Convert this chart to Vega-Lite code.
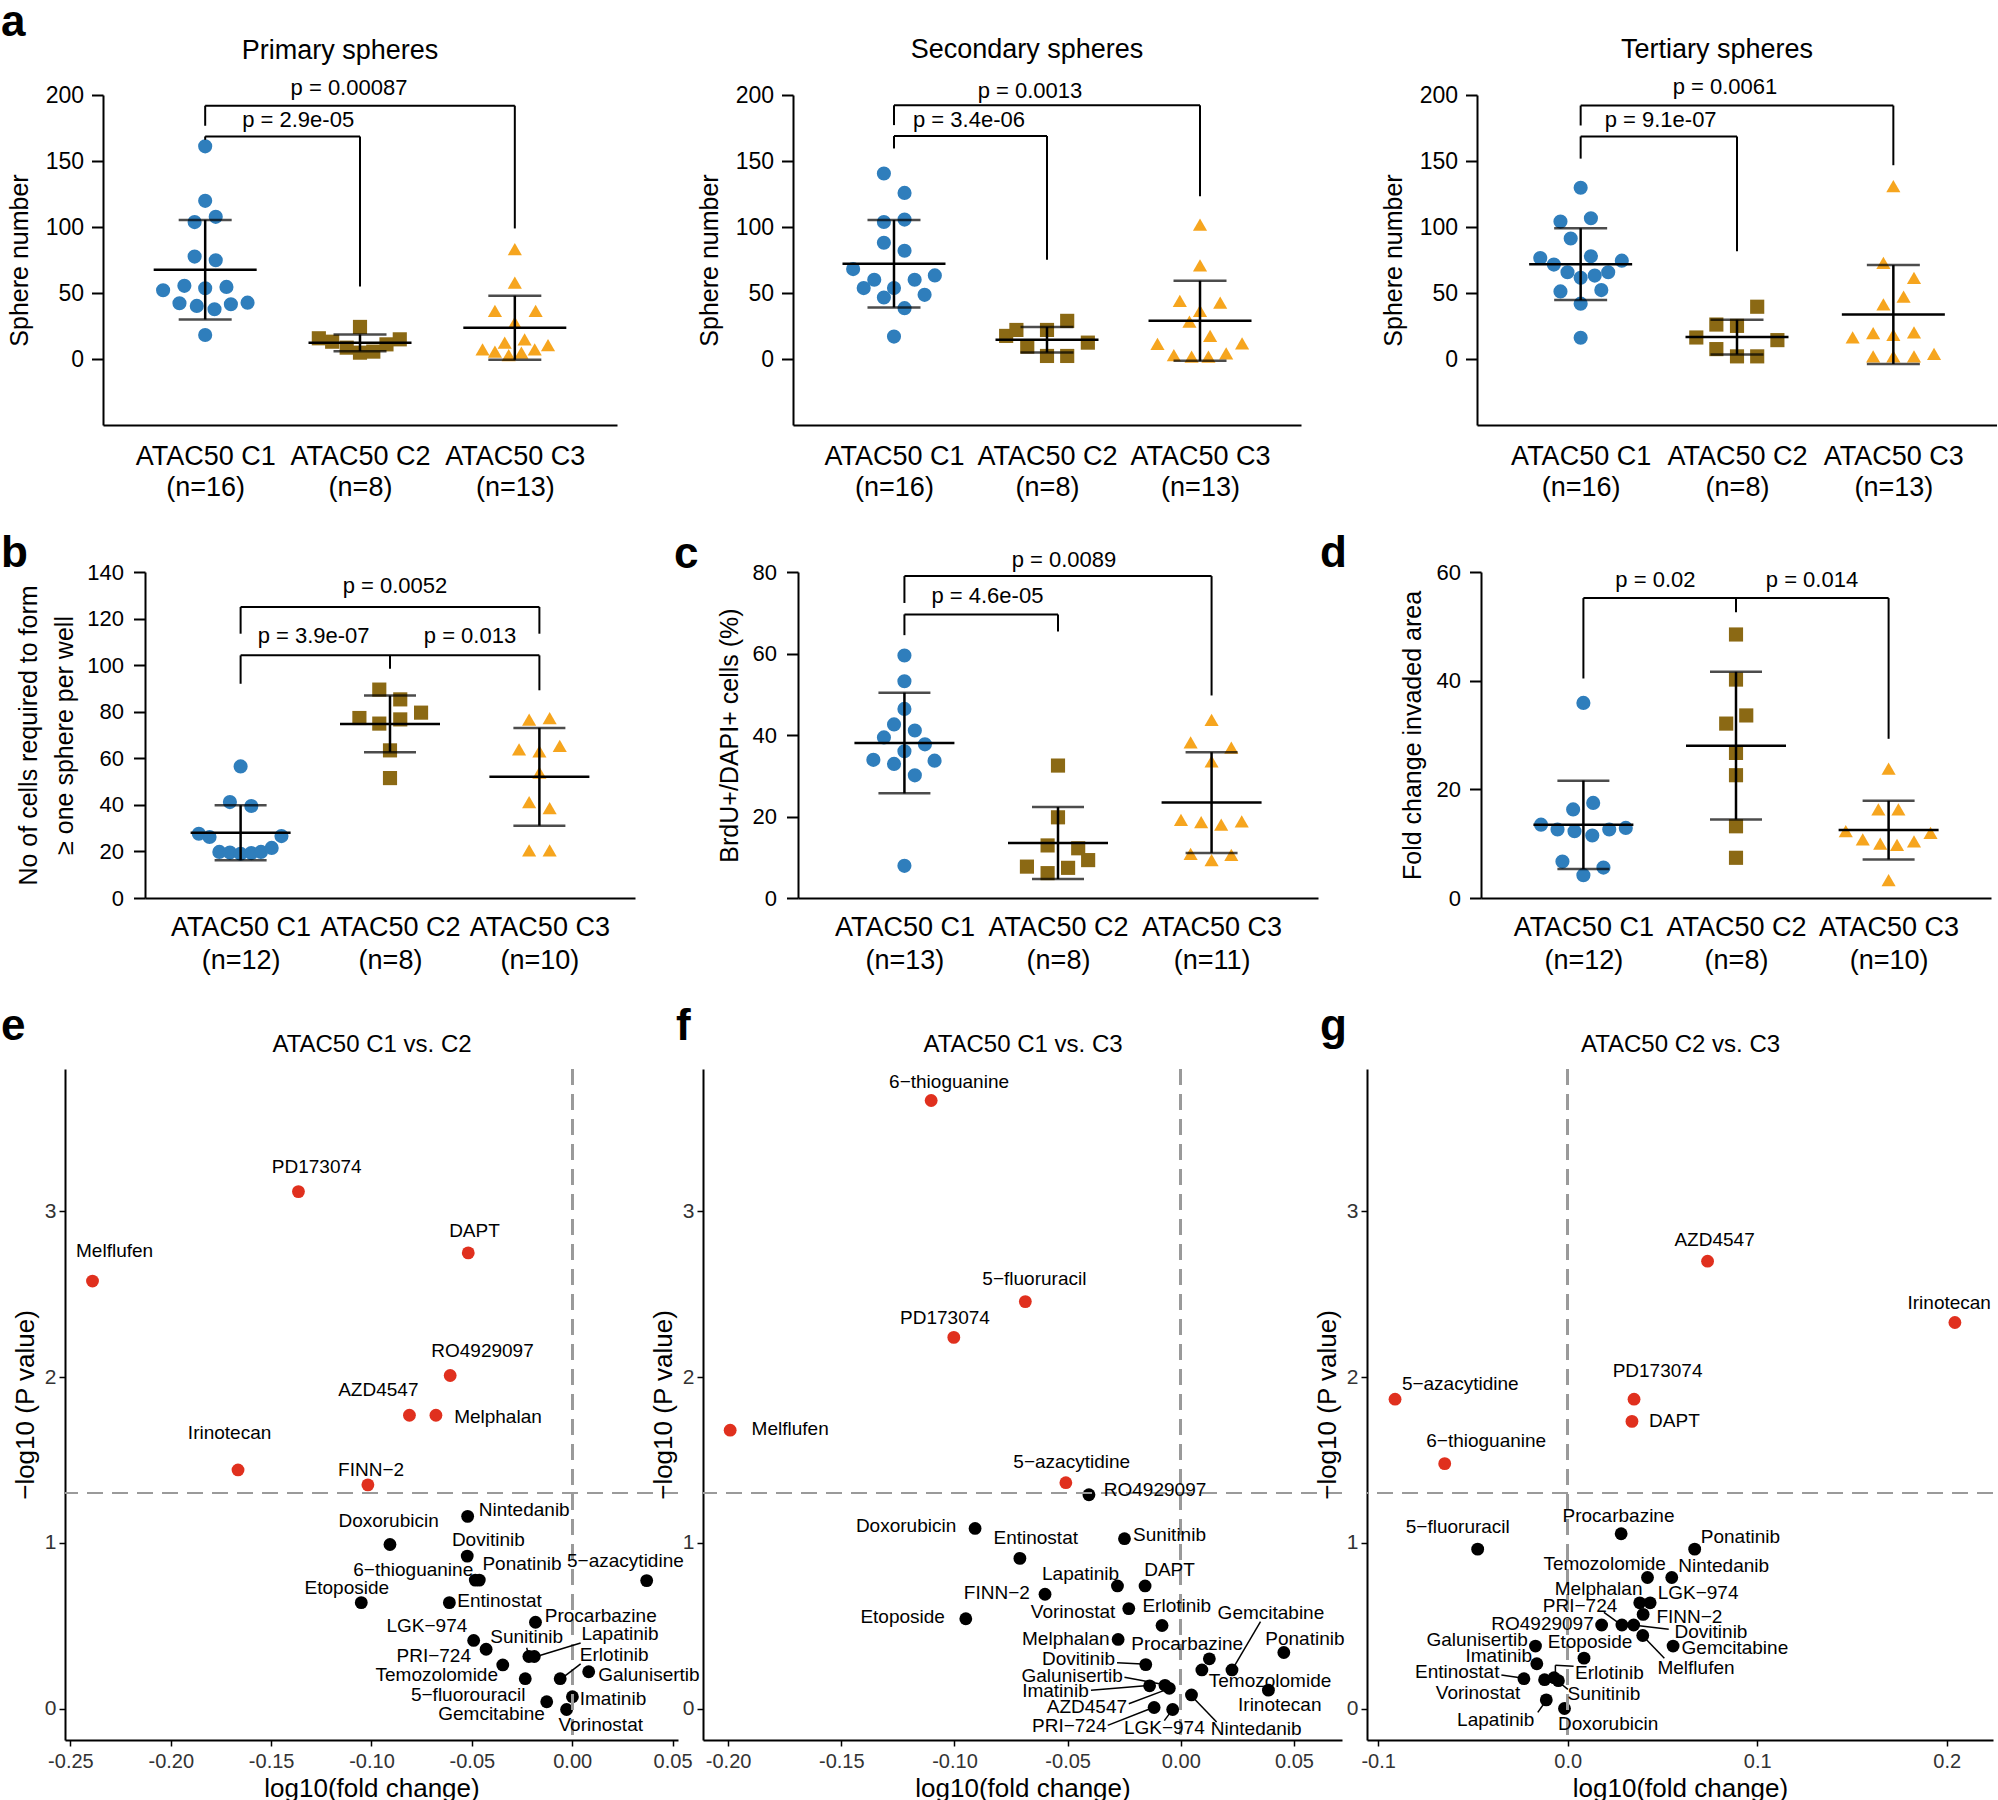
{
"$schema":"https://vega.github.io/schema/vega-lite/v6.json",
"background":"white",
"padding":0,
"autosize":{"type":"pad"},
"config":{"font":"Liberation Sans","view":{"stroke":null},
 "axis":{"grid":false,"domainColor":"black","tickColor":"black","labelColor":"black","titleColor":"black","titleFontWeight":"normal","labelFont":"Liberation Sans","titleFont":"Liberation Sans"},
 "title":{"color":"black","fontWeight":"normal","font":"Liberation Sans"}},
"spacing":32,
"vconcat":[
{"spacing":0,"hconcat":[
 {"width":1,"height":1,"data":{"values":[]},"mark":{"type":"point","opacity":0}},
 {"bounds":"flush","spacing":176,
 "title":{"text":"a","anchor":"start","frame":"group","dx":-102,"offset":-44,"fontSize":44,"fontWeight":"bold","baseline":"alphabetic"},
 "hconcat":[
  {"width":514,"height":330,
   "title":{"text":"Primary spheres","anchor":"middle","frame":"group","dx":-20,"offset":-9,"fontSize":27,"baseline":"alphabetic"},
   "data":{"values":[
    {"g":"C1","v":161.1,"j":0},{"g":"C1","v":119.8,"j":0},{"g":"C1","v":107.7,"j":0.069},{"g":"C1","v":103.7,"j":-0.069},{"g":"C1","v":77.6,"j":-0.069},{"g":"C1","v":74.8,"j":0.069},{"g":"C1","v":52.1,"j":-0.275},{"g":"C1","v":55.4,"j":-0.136},{"g":"C1","v":53.6,"j":0},{"g":"C1","v":54.6,"j":0.139},{"g":"C1","v":42.2,"j":-0.168},{"g":"C1","v":40.2,"j":-0.055},{"g":"C1","v":37.7,"j":0.061},{"g":"C1","v":41.5,"j":0.168},{"g":"C1","v":42.7,"j":0.277},{"g":"C1","v":18.2,"j":0},
    {"g":"C2","v":15.7,"j":-0.269},{"g":"C2","v":13.1,"j":-0.182},{"g":"C2","v":8.6,"j":-0.087},{"g":"C2","v":24.3,"j":0},{"g":"C2","v":4.8,"j":0},{"g":"C2","v":5.6,"j":0.087},{"g":"C2","v":11.1,"j":0.173},{"g":"C2","v":14.9,"j":0.26},
    {"g":"C3","v":83.2,"j":0},{"g":"C3","v":57.9,"j":0},{"g":"C3","v":36.4,"j":-0.13},{"g":"C3","v":36.4,"j":0.136},{"g":"C3","v":27.6,"j":0},{"g":"C3","v":7.3,"j":-0.211},{"g":"C3","v":5.6,"j":-0.13},{"g":"C3","v":12.4,"j":-0.066},{"g":"C3","v":14.9,"j":0.064},{"g":"C3","v":3.0,"j":-0.04},{"g":"C3","v":4.8,"j":0.043},{"g":"C3","v":7.3,"j":0.13},{"g":"C3","v":10.6,"j":0.217}]},
   "layer":[
    {"mark":{"type":"point","filled":true,"opacity":1,"size":200},
     "encoding":{
      "x":{"field":"g","type":"nominal","title":null,"scale":{"type":"point","padding":0.66,"domain":["C1","C2","C3"]},
       "axis":{"ticks":false,"tickSize":0,"domainWidth":2,"labelFontSize":27,"labelPadding":18,"labelLineHeight":31,"labelAngle":0,"labelBaseline":"top",
        "labelExpr":"datum.label == 'C1' ? ['ATAC50 C1','(n=16)'] : datum.label == 'C2' ? ['ATAC50 C2','(n=8)'] : ['ATAC50 C3','(n=13)']"}},
      "xOffset":{"field":"j","type":"quantitative","scale":{"domain":[-0.5,0.5],"range":[-76.5,76.5]}},
      "y":{"field":"v","type":"quantitative","title":"Sphere number","scale":{"domain":[-50,200],"nice":false,"zero":false},
       "axis":{"values":[0,50,100,150,200],"tickSize":11.5,"tickWidth":2,"domainWidth":2,"labelFontSize":23,"labelPadding":8,"titleFontSize":25,"titlePadding":13}},
      "color":{"field":"g","type":"nominal","legend":null,"scale":{"domain":["C1","C2","C3","sig","ns"],"range":["#2F7EBC","#8B6914","#F6A51E","#E0301E","#000000"]}},
      "shape":{"field":"g","type":"nominal","legend":null,"scale":{"domain":["C1","C2","C3"],"range":["circle","square","triangle-up"]}}}},
    {"mark":{"type":"errorbar","extent":"stdev","ticks":true,"size":53,"thickness":2.5,"color":"black"},
     "encoding":{"x":{"field":"g","type":"nominal","title":null},"y":{"field":"v","type":"quantitative","title":"Sphere number"}}},
    {"mark":{"type":"tick","size":103,"thickness":2.5,"color":"black"},
     "encoding":{"x":{"field":"g","type":"nominal","title":null},"y":{"aggregate":"mean","field":"v","type":"quantitative","title":"Sphere number"}}},
    {"data":{"values":[{"g1":"C1","g2":"C2","y1":168.6,"y2":168.6},{"g1":"C1","g2":"C1","y1":168.6,"y2":166},{"g1":"C2","g2":"C2","y1":168.6,"y2":54.9},{"g1":"C1","g2":"C3","y1":191.9,"y2":191.9},{"g1":"C1","g2":"C1","y1":191.9,"y2":176.7},{"g1":"C3","g2":"C3","y1":191.9,"y2":98.9}]},
     "mark":{"type":"rule","strokeWidth":2,"color":"black"},
     "encoding":{"x":{"field":"g1","type":"nominal","title":null},"x2":{"field":"g2"},"y":{"field":"y1","type":"quantitative","title":"Sphere number"},"y2":{"field":"y2"}}},
    {"data":{"values":[{"g":"C1","y":175.5,"t":"p = 2.9e-05"}]},"mark":{"type":"text","dx":93,"fontSize":22,"baseline":"alphabetic","align":"center","color":"black"},
     "encoding":{"x":{"field":"g","type":"nominal","title":null},"y":{"field":"y","type":"quantitative","title":"Sphere number"},"text":{"field":"t"}}},
    {"data":{"values":[{"g":"C2","y":200.3,"t":"p = 0.00087"}]},"mark":{"type":"text","dx":-11,"fontSize":22,"baseline":"alphabetic","align":"center","color":"black"},
     "encoding":{"x":{"field":"g","type":"nominal","title":null},"y":{"field":"y","type":"quantitative","title":"Sphere number"},"text":{"field":"t"}}}
   ]},
  {"width":508,"height":330,
   "title":{"text":"Secondary spheres","anchor":"middle","frame":"group","dx":-20,"offset":-5,"fontSize":27,"baseline":"alphabetic"},
   "data":{"values":[
    {"g":"C1","v":140.5,"j":-0.066},{"g":"C1","v":125.8,"j":0.069},{"g":"C1","v":103.8,"j":-0.066},{"g":"C1","v":105.6,"j":0.069},{"g":"C1","v":88.1,"j":-0.066},{"g":"C1","v":82,"j":0.069},{"g":"C1","v":68.1,"j":-0.267},{"g":"C1","v":60,"j":-0.129},{"g":"C1","v":60,"j":0.135},{"g":"C1","v":63.3,"j":0.267},{"g":"C1","v":53.7,"j":-0.198},{"g":"C1","v":53.7,"j":0},{"g":"C1","v":46.6,"j":-0.066},{"g":"C1","v":48.6,"j":0.2},{"g":"C1","v":38.5,"j":0.069},{"g":"C1","v":17,"j":0},
    {"g":"C2","v":17.5,"j":-0.267},{"g":"C2","v":22,"j":-0.2},{"g":"C2","v":9.4,"j":-0.129},{"g":"C2","v":22,"j":0},{"g":"C2","v":2.3,"j":0},{"g":"C2","v":28.9,"j":0.132},{"g":"C2","v":2.3,"j":0.132},{"g":"C2","v":12.4,"j":0.267},
    {"g":"C3","v":101.8,"j":0},{"g":"C3","v":70.9,"j":0},{"g":"C3","v":44,"j":-0.132},{"g":"C3","v":42.8,"j":0.132},{"g":"C3","v":36.5,"j":0},{"g":"C3","v":28.4,"j":-0.069},{"g":"C3","v":17.5,"j":0.066},{"g":"C3","v":11.4,"j":-0.278},{"g":"C3","v":11.9,"j":0.275},{"g":"C3","v":3,"j":-0.171},{"g":"C3","v":1.8,"j":-0.055},{"g":"C3","v":1.8,"j":0.055},{"g":"C3","v":4.3,"j":0.171}]},
   "layer":[
    {"mark":{"type":"point","filled":true,"opacity":1,"size":200},
     "encoding":{
      "x":{"field":"g","type":"nominal","title":null,"scale":{"type":"point","padding":0.66,"domain":["C1","C2","C3"]},
       "axis":{"ticks":false,"tickSize":0,"domainWidth":2,"labelFontSize":27,"labelPadding":18,"labelLineHeight":31,"labelAngle":0,"labelBaseline":"top",
        "labelExpr":"datum.label == 'C1' ? ['ATAC50 C1','(n=16)'] : datum.label == 'C2' ? ['ATAC50 C2','(n=8)'] : ['ATAC50 C3','(n=13)']"}},
      "xOffset":{"field":"j","type":"quantitative","scale":{"domain":[-0.5,0.5],"range":[-76.5,76.5]}},
      "y":{"field":"v","type":"quantitative","title":"Sphere number","scale":{"domain":[-50,200],"nice":false,"zero":false},
       "axis":{"values":[0,50,100,150,200],"tickSize":11.5,"tickWidth":2,"domainWidth":2,"labelFontSize":23,"labelPadding":8,"titleFontSize":25,"titlePadding":13}},
      "color":{"field":"g","type":"nominal","legend":null,"scale":{"domain":["C1","C2","C3","sig","ns"],"range":["#2F7EBC","#8B6914","#F6A51E","#E0301E","#000000"]}},
      "shape":{"field":"g","type":"nominal","legend":null,"scale":{"domain":["C1","C2","C3"],"range":["circle","square","triangle-up"]}}}},
    {"mark":{"type":"errorbar","extent":"stdev","ticks":true,"size":53,"thickness":2.5,"color":"black"},
     "encoding":{"x":{"field":"g","type":"nominal","title":null},"y":{"field":"v","type":"quantitative","title":"Sphere number"}}},
    {"mark":{"type":"tick","size":103,"thickness":2.5,"color":"black"},
     "encoding":{"x":{"field":"g","type":"nominal","title":null},"y":{"aggregate":"mean","field":"v","type":"quantitative","title":"Sphere number"}}},
    {"data":{"values":[{"g1":"C1","g2":"C2","y1":168.9,"y2":168.9},{"g1":"C1","g2":"C1","y1":168.9,"y2":159.5},{"g1":"C2","g2":"C2","y1":168.9,"y2":75.2},{"g1":"C1","g2":"C3","y1":192.2,"y2":192.2},{"g1":"C1","g2":"C1","y1":192.2,"y2":177.2},{"g1":"C3","g2":"C3","y1":192.2,"y2":123.3}]},
     "mark":{"type":"rule","strokeWidth":2,"color":"black"},
     "encoding":{"x":{"field":"g1","type":"nominal","title":null},"x2":{"field":"g2"},"y":{"field":"y1","type":"quantitative","title":"Sphere number"},"y2":{"field":"y2"}}},
    {"data":{"values":[{"g":"C1","y":175.7,"t":"p = 3.4e-06"}]},"mark":{"type":"text","dx":75,"fontSize":22,"baseline":"alphabetic","align":"center","color":"black"},
     "encoding":{"x":{"field":"g","type":"nominal","title":null},"y":{"field":"y","type":"quantitative","title":"Sphere number"},"text":{"field":"t"}}},
    {"data":{"values":[{"g":"C2","y":198,"t":"p = 0.0013"}]},"mark":{"type":"text","dx":-17,"fontSize":22,"baseline":"alphabetic","align":"center","color":"black"},
     "encoding":{"x":{"field":"g","type":"nominal","title":null},"y":{"field":"y","type":"quantitative","title":"Sphere number"},"text":{"field":"t"}}}
   ]},
  {"width":520,"height":330,
   "title":{"text":"Tertiary spheres","anchor":"middle","frame":"group","dx":-20,"offset":-9,"fontSize":27,"baseline":"alphabetic"},
   "data":{"values":[
    {"g":"C1","v":129.7,"j":0},{"g":"C1","v":104.1,"j":-0.132},{"g":"C1","v":106.6,"j":0.067},{"g":"C1","v":91.3,"j":-0.065},{"g":"C1","v":76.5,"j":-0.264},{"g":"C1","v":77.8,"j":0.067},{"g":"C1","v":71.5,"j":-0.175},{"g":"C1","v":74.5,"j":0.269},{"g":"C1","v":65.7,"j":-0.086},{"g":"C1","v":65.7,"j":0.18},{"g":"C1","v":63.2,"j":0.092},{"g":"C1","v":61.5,"j":0},{"g":"C1","v":51.2,"j":-0.132},{"g":"C1","v":52.2,"j":0.135},{"g":"C1","v":41.9,"j":0},{"g":"C1","v":16.1,"j":0},
    {"g":"C2","v":39.6,"j":0.132},{"g":"C2","v":26.1,"j":-0.135},{"g":"C2","v":25.1,"j":0},{"g":"C2","v":16.3,"j":-0.266},{"g":"C2","v":14.3,"j":0.264},{"g":"C2","v":7.5,"j":-0.135},{"g":"C2","v":2,"j":0},{"g":"C2","v":2,"j":0.132},
    {"g":"C3","v":131,"j":0},{"g":"C3","v":72.8,"j":-0.065},{"g":"C3","v":61.5,"j":0.135},{"g":"C3","v":47.2,"j":0.067},{"g":"C3","v":41.4,"j":-0.065},{"g":"C3","v":16.3,"j":-0.266},{"g":"C3","v":19.6,"j":-0.132},{"g":"C3","v":18.3,"j":0},{"g":"C3","v":20.1,"j":0.135},{"g":"C3","v":2,"j":-0.132},{"g":"C3","v":2,"j":0},{"g":"C3","v":2,"j":0.135},{"g":"C3","v":3.8,"j":0.266}]},
   "layer":[
    {"mark":{"type":"point","filled":true,"opacity":1,"size":200},
     "encoding":{
      "x":{"field":"g","type":"nominal","title":null,"scale":{"type":"point","padding":0.663,"domain":["C1","C2","C3"]},
       "axis":{"ticks":false,"tickSize":0,"domainWidth":2,"labelFontSize":27,"labelPadding":18,"labelLineHeight":31,"labelAngle":0,"labelBaseline":"top",
        "labelExpr":"datum.label == 'C1' ? ['ATAC50 C1','(n=16)'] : datum.label == 'C2' ? ['ATAC50 C2','(n=8)'] : ['ATAC50 C3','(n=13)']"}},
      "xOffset":{"field":"j","type":"quantitative","scale":{"domain":[-0.5,0.5],"range":[-76.5,76.5]}},
      "y":{"field":"v","type":"quantitative","title":"Sphere number","scale":{"domain":[-50,200],"nice":false,"zero":false},
       "axis":{"values":[0,50,100,150,200],"tickSize":11.5,"tickWidth":2,"domainWidth":2,"labelFontSize":23,"labelPadding":8,"titleFontSize":25,"titlePadding":13}},
      "color":{"field":"g","type":"nominal","legend":null,"scale":{"domain":["C1","C2","C3","sig","ns"],"range":["#2F7EBC","#8B6914","#F6A51E","#E0301E","#000000"]}},
      "shape":{"field":"g","type":"nominal","legend":null,"scale":{"domain":["C1","C2","C3"],"range":["circle","square","triangle-up"]}}}},
    {"mark":{"type":"errorbar","extent":"stdev","ticks":true,"size":53,"thickness":2.5,"color":"black"},
     "encoding":{"x":{"field":"g","type":"nominal","title":null},"y":{"field":"v","type":"quantitative","title":"Sphere number"}}},
    {"mark":{"type":"tick","size":103,"thickness":2.5,"color":"black"},
     "encoding":{"x":{"field":"g","type":"nominal","title":null},"y":{"aggregate":"mean","field":"v","type":"quantitative","title":"Sphere number"}}},
    {"data":{"values":[{"g1":"C1","g2":"C2","y1":168.6,"y2":168.6},{"g1":"C1","g2":"C1","y1":168.6,"y2":151.8},{"g1":"C2","g2":"C2","y1":168.6,"y2":81.6},{"g1":"C1","g2":"C3","y1":192,"y2":192},{"g1":"C1","g2":"C1","y1":192,"y2":176.9},{"g1":"C3","g2":"C3","y1":192,"y2":146.8}]},
     "mark":{"type":"rule","strokeWidth":2,"color":"black"},
     "encoding":{"x":{"field":"g1","type":"nominal","title":null},"x2":{"field":"g2"},"y":{"field":"y1","type":"quantitative","title":"Sphere number"},"y2":{"field":"y2"}}},
    {"data":{"values":[{"g":"C1","y":175.7,"t":"p = 9.1e-07"}]},"mark":{"type":"text","dx":80,"fontSize":22,"baseline":"alphabetic","align":"center","color":"black"},
     "encoding":{"x":{"field":"g","type":"nominal","title":null},"y":{"field":"y","type":"quantitative","title":"Sphere number"},"text":{"field":"t"}}},
    {"data":{"values":[{"g":"C2","y":200.8,"t":"p = 0.0061"}]},"mark":{"type":"text","dx":-12,"fontSize":22,"baseline":"alphabetic","align":"center","color":"black"},
     "encoding":{"x":{"field":"g","type":"nominal","title":null},"y":{"field":"y","type":"quantitative","title":"Sphere number"},"text":{"field":"t"}}}
   ]}
 ]}]},
{"spacing":0,"hconcat":[
 {"width":1,"height":1,"data":{"values":[]},"mark":{"type":"point","opacity":0}},
 {"bounds":"flush","spacing":163,
 "hconcat":[
   {"width":490,"height":326,
    "title":{"text":"b","anchor":"start","frame":"group","dx":-144,"offset":-50,"fontSize":44,"fontWeight":"bold","baseline":"alphabetic"},
    "data":{"values":[
     {"g":"C1","v":56.5,"j":0},{"g":"C1","v":41.2,"j":-0.07},{"g":"C1","v":39.5,"j":0.07},{"g":"C1","v":27.6,"j":-0.273},{"g":"C1","v":26.2,"j":-0.203},{"g":"C1","v":26.6,"j":0.267},{"g":"C1","v":19.8,"j":-0.139},{"g":"C1","v":19.5,"j":-0.07},{"g":"C1","v":19,"j":0},{"g":"C1","v":19.3,"j":0.07},{"g":"C1","v":19.8,"j":0.133},{"g":"C1","v":21.5,"j":0.203},
     {"g":"C2","v":89.5,"j":-0.07},{"g":"C2","v":85.3,"j":0.067},{"g":"C2","v":79.6,"j":0.203},{"g":"C2","v":77.3,"j":-0.2},{"g":"C2","v":74.9,"j":-0.07},{"g":"C2","v":76.7,"j":0.067},{"g":"C2","v":63.4,"j":0},{"g":"C2","v":51.5,"j":0},
     {"g":"C3","v":76.6,"j":-0.067},{"g":"C3","v":77.3,"j":0.067},{"g":"C3","v":63.8,"j":-0.133},{"g":"C3","v":63,"j":0},{"g":"C3","v":65.3,"j":0.133},{"g":"C3","v":53.8,"j":0},{"g":"C3","v":41.2,"j":-0.067},{"g":"C3","v":38.6,"j":0.067},{"g":"C3","v":20.5,"j":-0.067},{"g":"C3","v":20.5,"j":0.067}]},
    "layer":[
     {"mark":{"type":"point","filled":true,"opacity":1,"size":200},
      "encoding":{
       "x":{"field":"g","type":"nominal","title":null,"scale":{"type":"point","padding":0.64,"domain":["C1","C2","C3"]},
        "axis":{"ticks":false,"tickSize":0,"domainWidth":2,"labelFontSize":27,"labelPadding":16,"labelLineHeight":33,"labelAngle":0,"labelBaseline":"top",
         "labelExpr":"datum.label == 'C1' ? ['ATAC50 C1','(n=12)'] : datum.label == 'C2' ? ['ATAC50 C2','(n=8)'] : ['ATAC50 C3','(n=10)']"}},
       "xOffset":{"field":"j","type":"quantitative","scale":{"domain":[-0.5,0.5],"range":[-76.5,76.5]}},
       "y":{"field":"v","type":"quantitative","title":["No of cells required to form","≥ one sphere per well"],"scale":{"domain":[0,140],"nice":false,"zero":false},
        "axis":{"values":[0,20,40,60,80,100,120,140],"tickSize":11.5,"tickWidth":2,"domainWidth":2,"labelFontSize":22,"labelPadding":10,"titleFontSize":25,"titleLineHeight":36,"titlePadding":9}},
       "color":{"field":"g","type":"nominal","legend":null,"scale":{"domain":["C1","C2","C3","sig","ns"],"range":["#2F7EBC","#8B6914","#F6A51E","#E0301E","#000000"]}},
       "shape":{"field":"g","type":"nominal","legend":null,"scale":{"domain":["C1","C2","C3"],"range":["circle","square","triangle-up"]}}}},
     {"mark":{"type":"errorbar","extent":"stdev","ticks":true,"size":52,"thickness":2.5,"color":"black"},
      "encoding":{"x":{"field":"g","type":"nominal","title":null},"y":{"field":"v","type":"quantitative","title":["No of cells required to form","≥ one sphere per well"]}}},
     {"mark":{"type":"tick","size":100,"thickness":2.5,"color":"black"},
      "encoding":{"x":{"field":"g","type":"nominal","title":null},"y":{"aggregate":"mean","field":"v","type":"quantitative","title":["No of cells required to form","≥ one sphere per well"]}}},
     {"data":{"values":[{"g1":"C1","g2":"C3","y1":125,"y2":125},{"g1":"C1","g2":"C1","y1":125,"y2":113.5},{"g1":"C3","g2":"C3","y1":125,"y2":113.5},{"g1":"C1","g2":"C3","y1":104.2,"y2":104.2},{"g1":"C1","g2":"C1","y1":104.2,"y2":92},{"g1":"C3","g2":"C3","y1":104.2,"y2":89.2},{"g1":"C2","g2":"C2","y1":104.2,"y2":98.5}]},
      "mark":{"type":"rule","strokeWidth":2,"color":"black"},
      "encoding":{"x":{"field":"g1","type":"nominal","title":null},"x2":{"field":"g2"},"y":{"field":"y1","type":"quantitative","title":["No of cells required to form","≥ one sphere per well"]},"y2":{"field":"y2"}}},
     {"data":{"values":[{"g":"C2","y":131,"t":"p = 0.0052"}]},"mark":{"type":"text","dx":5,"fontSize":22,"baseline":"alphabetic","align":"center","color":"black"},
      "encoding":{"x":{"field":"g","type":"nominal","title":null},"y":{"field":"y","type":"quantitative","title":["No of cells required to form","≥ one sphere per well"]},"text":{"field":"t"}}},
     {"data":{"values":[{"g":"C1","y":109.5,"t":"p = 3.9e-07"}]},"mark":{"type":"text","dx":73,"fontSize":22,"baseline":"alphabetic","align":"center","color":"black"},
      "encoding":{"x":{"field":"g","type":"nominal","title":null},"y":{"field":"y","type":"quantitative","title":["No of cells required to form","≥ one sphere per well"]},"text":{"field":"t"}}},
     {"data":{"values":[{"g":"C2","y":109.5,"t":"p = 0.013"}]},"mark":{"type":"text","dx":80,"fontSize":22,"baseline":"alphabetic","align":"center","color":"black"},
      "encoding":{"x":{"field":"g","type":"nominal","title":null},"y":{"field":"y","type":"quantitative","title":["No of cells required to form","≥ one sphere per well"]},"text":{"field":"t"}}}
    ]},
    {"width":520,"height":326,
     "title":{"text":"c","anchor":"start","frame":"group","dx":-124,"offset":-63,"fontSize":44,"fontWeight":"bold","baseline":"alphabetic"},
     "data":{"values":[
      {"g":"C1","v":59.5,"j":0},{"g":"C1","v":53.2,"j":0},{"g":"C1","v":46.4,"j":0},{"g":"C1","v":42.6,"j":-0.068},{"g":"C1","v":41.1,"j":0.068},{"g":"C1","v":39.4,"j":-0.134},{"g":"C1","v":37.7,"j":0.134},{"g":"C1","v":36,"j":0},{"g":"C1","v":33.9,"j":-0.203},{"g":"C1","v":32.9,"j":-0.068},{"g":"C1","v":33.7,"j":0.197},{"g":"C1","v":30.1,"j":0.068},{"g":"C1","v":7.9,"j":0},
      {"g":"C2","v":32.5,"j":0},{"g":"C2","v":19.8,"j":0},{"g":"C2","v":12.9,"j":-0.068},{"g":"C2","v":12.2,"j":0.132},{"g":"C2","v":9.3,"j":0.197},{"g":"C2","v":7.7,"j":-0.203},{"g":"C2","v":7.4,"j":0.066},{"g":"C2","v":6.1,"j":-0.068},
      {"g":"C3","v":43.7,"j":0},{"g":"C3","v":38.2,"j":-0.137},{"g":"C3","v":36.9,"j":0.129},{"g":"C3","v":33.5,"j":0},{"g":"C3","v":19.2,"j":-0.2},{"g":"C3","v":18.6,"j":-0.068},{"g":"C3","v":18,"j":0.063},{"g":"C3","v":18.8,"j":0.197},{"g":"C3","v":10.8,"j":-0.137},{"g":"C3","v":10.6,"j":0.129},{"g":"C3","v":9.3,"j":0}]},
     "layer":[
      {"mark":{"type":"point","filled":true,"opacity":1,"size":200},
       "encoding":{
        "x":{"field":"g","type":"nominal","title":null,"scale":{"type":"point","padding":0.693,"domain":["C1","C2","C3"]},
         "axis":{"ticks":false,"tickSize":0,"domainWidth":2,"labelFontSize":27,"labelPadding":16,"labelLineHeight":33,"labelAngle":0,"labelBaseline":"top",
          "labelExpr":"datum.label == 'C1' ? ['ATAC50 C1','(n=13)'] : datum.label == 'C2' ? ['ATAC50 C2','(n=8)'] : ['ATAC50 C3','(n=11)']"}},
        "xOffset":{"field":"j","type":"quantitative","scale":{"domain":[-0.5,0.5],"range":[-76.5,76.5]}},
        "y":{"field":"v","type":"quantitative","title":"BrdU+/DAPI+ cells (%)","scale":{"domain":[0,80],"nice":false,"zero":false},
         "axis":{"values":[0,20,40,60,80],"tickSize":11.5,"tickWidth":2,"domainWidth":2,"labelFontSize":22,"labelPadding":10,"titleFontSize":25,"titlePadding":10}},
        "color":{"field":"g","type":"nominal","legend":null,"scale":{"domain":["C1","C2","C3","sig","ns"],"range":["#2F7EBC","#8B6914","#F6A51E","#E0301E","#000000"]}},
        "shape":{"field":"g","type":"nominal","legend":null,"scale":{"domain":["C1","C2","C3"],"range":["circle","square","triangle-up"]}}}},
      {"mark":{"type":"errorbar","extent":"stdev","ticks":true,"size":52,"thickness":2.5,"color":"black"},
       "encoding":{"x":{"field":"g","type":"nominal","title":null},"y":{"field":"v","type":"quantitative","title":"BrdU+/DAPI+ cells (%)"}}},
      {"mark":{"type":"tick","size":100,"thickness":2.5,"color":"black"},
       "encoding":{"x":{"field":"g","type":"nominal","title":null},"y":{"aggregate":"mean","field":"v","type":"quantitative","title":"BrdU+/DAPI+ cells (%)"}}},
      {"data":{"values":[{"g1":"C1","g2":"C3","y1":79,"y2":79},{"g1":"C1","g2":"C1","y1":79,"y2":72.4},{"g1":"C3","g2":"C3","y1":79,"y2":49.7},{"g1":"C1","g2":"C2","y1":69.6,"y2":69.6},{"g1":"C1","g2":"C1","y1":69.6,"y2":64.5},{"g1":"C2","g2":"C2","y1":69.6,"y2":65.4}]},
       "mark":{"type":"rule","strokeWidth":2,"color":"black"},
       "encoding":{"x":{"field":"g1","type":"nominal","title":null},"x2":{"field":"g2"},"y":{"field":"y1","type":"quantitative","title":"BrdU+/DAPI+ cells (%)"},"y2":{"field":"y2"}}},
      {"data":{"values":[{"g":"C2","y":81.2,"t":"p = 0.0089"}]},"mark":{"type":"text","dx":6,"fontSize":22,"baseline":"alphabetic","align":"center","color":"black"},
       "encoding":{"x":{"field":"g","type":"nominal","title":null},"y":{"field":"y","type":"quantitative","title":"BrdU+/DAPI+ cells (%)"},"text":{"field":"t"}}},
      {"data":{"values":[{"g":"C1","y":72.4,"t":"p = 4.6e-05"}]},"mark":{"type":"text","dx":83,"fontSize":22,"baseline":"alphabetic","align":"center","color":"black"},
       "encoding":{"x":{"field":"g","type":"nominal","title":null},"y":{"field":"y","type":"quantitative","title":"BrdU+/DAPI+ cells (%)"},"text":{"field":"t"}}}
     ]},
    {"width":510,"height":326,
     "title":{"text":"d","anchor":"start","frame":"group","dx":-161,"offset":-50,"fontSize":44,"fontWeight":"bold","baseline":"alphabetic"},
     "data":{"values":[
      {"g":"C1","v":35.9,"j":0},{"g":"C1","v":17.5,"j":0.064},{"g":"C1","v":16.3,"j":-0.067},{"g":"C1","v":13.5,"j":-0.277},{"g":"C1","v":12.6,"j":-0.169},{"g":"C1","v":12.3,"j":-0.058},{"g":"C1","v":11.5,"j":0.058},{"g":"C1","v":12.6,"j":0.169},{"g":"C1","v":12.9,"j":0.277},{"g":"C1","v":6.7,"j":-0.137},{"g":"C1","v":5.6,"j":0.131},{"g":"C1","v":4.2,"j":0},
      {"g":"C2","v":48.5,"j":0},{"g":"C2","v":40.2,"j":0},{"g":"C2","v":33.6,"j":0.067},{"g":"C2","v":32.1,"j":-0.064},{"g":"C2","v":26.7,"j":0},{"g":"C2","v":22.6,"j":0},{"g":"C2","v":13.2,"j":0},{"g":"C2","v":7.4,"j":0},
      {"g":"C3","v":23.8,"j":0},{"g":"C3","v":16.3,"j":-0.067},{"g":"C3","v":16.3,"j":0.064},{"g":"C3","v":12.3,"j":-0.28},{"g":"C3","v":12,"j":0.274},{"g":"C3","v":10.8,"j":-0.169},{"g":"C3","v":10.4,"j":0.166},{"g":"C3","v":10,"j":-0.055},{"g":"C3","v":9.8,"j":0.055},{"g":"C3","v":3.3,"j":0}]},
     "layer":[
      {"mark":{"type":"point","filled":true,"opacity":1,"size":200},
       "encoding":{
        "x":{"field":"g","type":"nominal","title":null,"scale":{"type":"point","padding":0.671,"domain":["C1","C2","C3"]},
         "axis":{"ticks":false,"tickSize":0,"domainWidth":2,"labelFontSize":27,"labelPadding":16,"labelLineHeight":33,"labelAngle":0,"labelBaseline":"top",
          "labelExpr":"datum.label == 'C1' ? ['ATAC50 C1','(n=12)'] : datum.label == 'C2' ? ['ATAC50 C2','(n=8)'] : ['ATAC50 C3','(n=10)']"}},
        "xOffset":{"field":"j","type":"quantitative","scale":{"domain":[-0.5,0.5],"range":[-76.5,76.5]}},
        "y":{"field":"v","type":"quantitative","title":"Fold change invaded area","scale":{"domain":[0,60],"nice":false,"zero":false},
         "axis":{"values":[0,20,40,60],"tickSize":11.5,"tickWidth":2,"domainWidth":2,"labelFontSize":22,"labelPadding":9,"titleFontSize":25,"titlePadding":11}},
        "color":{"field":"g","type":"nominal","legend":null,"scale":{"domain":["C1","C2","C3","sig","ns"],"range":["#2F7EBC","#8B6914","#F6A51E","#E0301E","#000000"]}},
        "shape":{"field":"g","type":"nominal","legend":null,"scale":{"domain":["C1","C2","C3"],"range":["circle","square","triangle-up"]}}}},
      {"mark":{"type":"errorbar","extent":"stdev","ticks":true,"size":52,"thickness":2.5,"color":"black"},
       "encoding":{"x":{"field":"g","type":"nominal","title":null},"y":{"field":"v","type":"quantitative","title":"Fold change invaded area"}}},
      {"mark":{"type":"tick","size":100,"thickness":2.5,"color":"black"},
       "encoding":{"x":{"field":"g","type":"nominal","title":null},"y":{"aggregate":"mean","field":"v","type":"quantitative","title":"Fold change invaded area"}}},
      {"data":{"values":[{"g1":"C1","g2":"C3","y1":55.2,"y2":55.2},{"g1":"C1","g2":"C1","y1":55.2,"y2":40.4},{"g1":"C3","g2":"C3","y1":55.2,"y2":29.3},{"g1":"C2","g2":"C2","y1":55.2,"y2":52.6}]},
       "mark":{"type":"rule","strokeWidth":2,"color":"black"},
       "encoding":{"x":{"field":"g1","type":"nominal","title":null},"x2":{"field":"g2"},"y":{"field":"y1","type":"quantitative","title":"Fold change invaded area"},"y2":{"field":"y2"}}},
      {"data":{"values":[{"g":"C1","y":57.2,"t":"p = 0.02"}]},"mark":{"type":"text","dx":72,"fontSize":22,"baseline":"alphabetic","align":"center","color":"black"},
       "encoding":{"x":{"field":"g","type":"nominal","title":null},"y":{"field":"y","type":"quantitative","title":"Fold change invaded area"},"text":{"field":"t"}}},
      {"data":{"values":[{"g":"C2","y":57.2,"t":"p = 0.014"}]},"mark":{"type":"text","dx":76,"fontSize":22,"baseline":"alphabetic","align":"center","color":"black"},
       "encoding":{"x":{"field":"g","type":"nominal","title":null},"y":{"field":"y","type":"quantitative","title":"Fold change invaded area"},"text":{"field":"t"}}}
     ]}
 ]}]},
{"spacing":0,"hconcat":[
 {"width":1,"height":1,"data":{"values":[]},"mark":{"type":"point","opacity":0}},
 {"bounds":"flush","spacing":25,
 "hconcat":[
   {"width":613,"height":671,
    "title":{"text":"e","anchor":"start","frame":"group","dx":-64,"offset":-52,"fontSize":44,"fontWeight":"bold","baseline":"alphabetic"},
    "data":{"values":[
     {"d":"Melflufen","x":-0.239,"y":2.58,"s":"sig","lx":-0.228,"ly":2.76},
     {"d":"PD173074","x":-0.1364,"y":3.12,"s":"sig","lx":-0.1273,"ly":3.27},
     {"d":"DAPT","x":-0.0518,"y":2.75,"s":"sig","lx":-0.0487,"ly":2.88},
     {"d":"RO4929097","x":-0.0608,"y":2.01,"s":"sig","lx":-0.0447,"ly":2.16},
     {"d":"AZD4547","x":-0.0811,"y":1.77,"s":"sig","lx":-0.0966,"ly":1.92},
     {"d":"Melphalan","x":-0.0679,"y":1.77,"s":"sig","lx":-0.037,"ly":1.76},
     {"d":"Irinotecan","x":-0.1665,"y":1.44,"s":"sig","lx":-0.1707,"ly":1.66},
     {"d":"FINN−2","x":-0.1018,"y":1.35,"s":"sig","lx":-0.1002,"ly":1.44},
     {"d":"Nintedanib","x":-0.0521,"y":1.16,"s":"ns","lx":-0.0239,"ly":1.2},
     {"d":"Doxorubicin","x":-0.0908,"y":0.99,"s":"ns","lx":-0.0915,"ly":1.13},
     {"d":"Dovitinib","x":-0.0523,"y":0.92,"s":"ns","lx":-0.0418,"ly":1.02},
     {"d":"6−thioguanine","x":-0.0483,"y":0.775,"s":"ns","lx":-0.0792,"ly":0.834},
     {"d":"Ponatinib","x":-0.0463,"y":0.775,"s":"ns","lx":-0.025,"ly":0.873},
     {"d":"5−azacytidine","x":0.0371,"y":0.772,"s":"ns","lx":0.0265,"ly":0.888},
     {"d":"Etoposide","x":-0.1051,"y":0.639,"s":"ns","lx":-0.1123,"ly":0.725},
     {"d":"Entinostat","x":-0.0612,"y":0.639,"s":"ns","lx":-0.0362,"ly":0.651},
     {"d":"Procarbazine","x":-0.0183,"y":0.521,"s":"ns","lx":0.0142,"ly":0.559},
     {"d":"LGK−974","x":-0.0491,"y":0.411,"s":"ns","lx":-0.0724,"ly":0.497},
     {"d":"PRI−724","x":-0.0429,"y":0.358,"s":"ns","lx":-0.069,"ly":0.32},
     {"d":"Sunitinib","x":-0.0216,"y":0.314,"s":"ns","lx":-0.0227,"ly":0.432},
     {"d":"Lapatinib","x":-0.0189,"y":0.314,"s":"ns","lx":0.0238,"ly":0.45},
     {"d":"Temozolomide","x":-0.0346,"y":0.263,"s":"ns","lx":-0.0675,"ly":0.204},
     {"d":"5−fluorouracil","x":-0.0234,"y":0.18,"s":"ns","lx":-0.0518,"ly":0.083},
     {"d":"Erlotinib","x":-0.006,"y":0.18,"s":"ns","lx":0.0209,"ly":0.322},
     {"d":"Galunisertib","x":0.0082,"y":0.222,"s":"ns","lx":0.0382,"ly":0.204},
     {"d":"Imatinib","x":0.0001,"y":0.071,"s":"ns","lx":0.0203,"ly":0.056},
     {"d":"Gemcitabine","x":-0.0127,"y":0.041,"s":"ns","lx":-0.0402,"ly":-0.036},
     {"d":"Vorinostat","x":-0.0028,"y":-0.006,"s":"ns","lx":0.0142,"ly":-0.101}]},
    "layer":[
     {"mark":{"type":"circle","size":165,"opacity":1},
      "encoding":{
       "x":{"field":"x","type":"quantitative","title":"log10(fold change)","scale":{"domain":[-0.2527,0.0527],"nice":false,"zero":false},
        "axis":{"orient":"bottom","values":[-0.25,-0.2,-0.15,-0.1,-0.05,0,0.05],"labelExpr":"replace(format(datum.value,'.2f'),'−','-')","tickSize":6,"tickWidth":1.5,"domainWidth":2,"labelFontSize":20,"labelPadding":5,"labelColor":"#333333","titleFontSize":26,"titlePadding":4}},
       "y":{"field":"y","type":"quantitative","title":"−log10 (P value)","scale":{"domain":[-0.19,3.86],"nice":false,"zero":false},
        "axis":{"values":[0,1,2,3],"format":"d","tickSize":6,"tickWidth":1.5,"domainWidth":2,"labelFontSize":21,"labelPadding":3,"labelColor":"#333333","titleFontSize":26,"titlePadding":6}},
       "color":{"field":"s","type":"nominal","legend":null,"scale":{"domain":["C1","C2","C3","sig","ns"],"range":["#2F7EBC","#8B6914","#F6A51E","#E0301E","#000000"]}}}},
     {"mark":{"type":"rule","color":"#9A9A9A","strokeWidth":2,"strokeDash":[16,9]},"encoding":{"y":{"datum":1.301,"title":"−log10 (P value)"}}},
     {"mark":{"type":"rule","color":"#9A9A9A","strokeWidth":2,"strokeDash":[16,9]},"encoding":{"x":{"datum":0,"axis":null}}},
     {"data":{"values":[{"x1":-0.0227,"y1":0.367,"x2":-0.0216,"y2":0.322},{"x1":0.0042,"y1":0.396,"x2":-0.0178,"y2":0.314},{"x1":0.0042,"y1":0.269,"x2":-0.0047,"y2":0.186}]},
      "mark":{"type":"rule","color":"black","strokeWidth":1.5},
      "encoding":{"x":{"field":"x1","type":"quantitative","axis":null},"x2":{"field":"x2"},"y":{"field":"y1","type":"quantitative","title":"−log10 (P value)"},"y2":{"field":"y2"}}},
     {"mark":{"type":"text","fontSize":19,"color":"black","align":"center","baseline":"middle"},
      "encoding":{"x":{"field":"lx","type":"quantitative","axis":{"orient":"top","title":"ATAC50 C1 vs. C2","domain":false,"ticks":false,"labels":false,"grid":false,"titleFontSize":24,"titlePadding":13}},
       "y":{"field":"ly","type":"quantitative","title":"−log10 (P value)"},"text":{"field":"d"}}}
    ]},
    {"width":639,"height":671,
     "title":{"text":"f","anchor":"start","frame":"group","dx":-27,"offset":-52,"fontSize":44,"fontWeight":"bold","baseline":"alphabetic"},
     "data":{"values":[
      {"d":"6−thioguanine","x":-0.1103,"y":3.67,"s":"sig","lx":-0.1024,"ly":3.78},
      {"d":"5−fluoruracil","x":-0.0687,"y":2.456,"s":"sig","lx":-0.0647,"ly":2.59},
      {"d":"PD173074","x":-0.1003,"y":2.24,"s":"sig","lx":-0.1042,"ly":2.357},
      {"d":"Melflufen","x":-0.1991,"y":1.68,"s":"sig","lx":-0.1726,"ly":1.69},
      {"d":"5−azacytidine","x":-0.0508,"y":1.363,"s":"sig","lx":-0.0482,"ly":1.49},
      {"d":"RO4929097","x":-0.0406,"y":1.29,"s":"ns","lx":-0.0114,"ly":1.32},
      {"d":"Doxorubicin","x":-0.0909,"y":1.087,"s":"ns","lx":-0.1214,"ly":1.1},
      {"d":"Entinostat","x":-0.0711,"y":0.906,"s":"ns","lx":-0.0641,"ly":1.03},
      {"d":"Sunitinib","x":-0.0249,"y":1.025,"s":"ns","lx":-0.005,"ly":1.046},
      {"d":"Lapatinib","x":-0.028,"y":0.74,"s":"ns","lx":-0.0443,"ly":0.81},
      {"d":"DAPT","x":-0.0158,"y":0.74,"s":"ns","lx":-0.005,"ly":0.839},
      {"d":"FINN−2","x":-0.06,"y":0.69,"s":"ns","lx":-0.0813,"ly":0.7},
      {"d":"Vorinostat","x":-0.023,"y":0.603,"s":"ns","lx":-0.0476,"ly":0.585},
      {"d":"Erlotinib","x":-0.0083,"y":0.501,"s":"ns","lx":-0.0018,"ly":0.617},
      {"d":"Etoposide","x":-0.095,"y":0.542,"s":"ns","lx":-0.1229,"ly":0.55},
      {"d":"Melphalan","x":-0.0277,"y":0.417,"s":"ns","lx":-0.0508,"ly":0.417},
      {"d":"Procarbazine","x":0.0126,"y":0.3,"s":"ns","lx":0.0028,"ly":0.387},
      {"d":"Temozolomide","x":0.0093,"y":0.233,"s":"ns","lx":0.0394,"ly":0.169},
      {"d":"Gemcitabine","x":0.0226,"y":0.233,"s":"ns","lx":0.0398,"ly":0.574},
      {"d":"Ponatinib","x":0.0455,"y":0.338,"s":"ns","lx":0.0548,"ly":0.422},
      {"d":"Irinotecan","x":0.0387,"y":0.111,"s":"ns","lx":0.0437,"ly":0.02},
      {"d":"Dovitinib","x":-0.0155,"y":0.265,"s":"ns","lx":-0.0452,"ly":0.297},
      {"d":"Galunisertib","x":-0.007,"y":0.14,"s":"ns","lx":-0.048,"ly":0.198},
      {"d":"AZD4547","x":-0.0051,"y":0.122,"s":"ns","lx":-0.0415,"ly":0.012},
      {"d":"Imatinib","x":-0.0138,"y":0.137,"s":"ns","lx":-0.0554,"ly":0.108},
      {"d":"PRI−724","x":-0.0118,"y":0.006,"s":"ns","lx":-0.0493,"ly":-0.105},
      {"d":"LGK−974","x":-0.0036,"y":-0.006,"s":"ns","lx":-0.0073,"ly":-0.119},
      {"d":"Nintedanib","x":0.0047,"y":0.082,"s":"ns","lx":0.0333,"ly":-0.125}]},
     "layer":[
      {"mark":{"type":"circle","size":165,"opacity":1},
       "encoding":{
        "x":{"field":"x","type":"quantitative","title":"log10(fold change)","scale":{"domain":[-0.2111,0.0712],"nice":false,"zero":false},
         "axis":{"orient":"bottom","values":[-0.2,-0.15,-0.1,-0.05,0,0.05],"labelExpr":"replace(format(datum.value,'.2f'),'−','-')","tickSize":6,"tickWidth":1.5,"domainWidth":2,"labelFontSize":20,"labelPadding":5,"labelColor":"#333333","titleFontSize":26,"titlePadding":4}},
        "y":{"field":"y","type":"quantitative","title":"−log10 (P value)","scale":{"domain":[-0.19,3.86],"nice":false,"zero":false},
         "axis":{"values":[0,1,2,3],"format":"d","tickSize":6,"tickWidth":1.5,"domainWidth":2,"labelFontSize":21,"labelPadding":3,"labelColor":"#333333","titleFontSize":26,"titlePadding":6}},
        "color":{"field":"s","type":"nominal","legend":null,"scale":{"domain":["C1","C2","C3","sig","ns"],"range":["#2F7EBC","#8B6914","#F6A51E","#E0301E","#000000"]}}}},
      {"mark":{"type":"rule","color":"#9A9A9A","strokeWidth":2,"strokeDash":[16,9]},"encoding":{"y":{"datum":1.301,"title":"−log10 (P value)"}}},
      {"mark":{"type":"rule","color":"#9A9A9A","strokeWidth":2,"strokeDash":[16,9]},"encoding":{"x":{"datum":0,"axis":null}}},
      {"data":{"values":[{"x1":0.0352,"y1":0.524,"x2":0.0235,"y2":0.253},{"x1":-0.0282,"y1":0.277,"x2":-0.017,"y2":0.268},{"x1":-0.0249,"y1":0.189,"x2":-0.0083,"y2":0.146},{"x1":-0.023,"y1":0.029,"x2":-0.007,"y2":0.111},{"x1":-0.0397,"y1":0.111,"x2":-0.0157,"y2":0.137},{"x1":-0.0323,"y1":-0.102,"x2":-0.0133,"y2":0.0},{"x1":-0.0073,"y1":-0.073,"x2":-0.0046,"y2":-0.023},{"x1":0.0158,"y1":-0.082,"x2":0.0056,"y2":0.064}]},
       "mark":{"type":"rule","color":"black","strokeWidth":1.5},
       "encoding":{"x":{"field":"x1","type":"quantitative","axis":null},"x2":{"field":"x2"},"y":{"field":"y1","type":"quantitative","title":"−log10 (P value)"},"y2":{"field":"y2"}}},
      {"mark":{"type":"text","fontSize":19,"color":"black","align":"center","baseline":"middle"},
       "encoding":{"x":{"field":"lx","type":"quantitative","axis":{"orient":"top","title":"ATAC50 C1 vs. C3","domain":false,"ticks":false,"labels":false,"grid":false,"titleFontSize":24,"titlePadding":13}},
        "y":{"field":"ly","type":"quantitative","title":"−log10 (P value)"},"text":{"field":"d"}}}
     ]},
    {"width":626,"height":671,
     "title":{"text":"g","anchor":"start","frame":"group","dx":-47,"offset":-52,"fontSize":44,"fontWeight":"bold","baseline":"alphabetic"},
     "data":{"values":[
      {"d":"AZD4547","x":0.0738,"y":2.7,"s":"sig","lx":0.0775,"ly":2.83},
      {"d":"Irinotecan","x":0.2043,"y":2.33,"s":"sig","lx":0.2013,"ly":2.45},
      {"d":"5−azacytidine","x":-0.0911,"y":1.867,"s":"sig","lx":-0.0567,"ly":1.96},
      {"d":"PD173074","x":0.035,"y":1.867,"s":"sig","lx":0.0474,"ly":2.035},
      {"d":"DAPT","x":0.0339,"y":1.733,"s":"sig","lx":0.0563,"ly":1.736},
      {"d":"6−thioguanine","x":-0.0649,"y":1.478,"s":"sig","lx":-0.043,"ly":1.617},
      {"d":"5−fluoruracil","x":-0.0475,"y":0.962,"s":"ns","lx":-0.058,"ly":1.093},
      {"d":"Procarbazine","x":0.0282,"y":1.055,"s":"ns","lx":0.0268,"ly":1.16},
      {"d":"Ponatinib","x":0.067,"y":0.962,"s":"ns","lx":0.0911,"ly":1.038},
      {"d":"Temozolomide","x":0.0421,"y":0.791,"s":"ns","lx":0.0195,"ly":0.875},
      {"d":"Nintedanib","x":0.0549,"y":0.791,"s":"ns","lx":0.0823,"ly":0.861},
      {"d":"Melphalan","x":0.038,"y":0.638,"s":"ns","lx":0.0163,"ly":0.719},
      {"d":"LGK−974","x":0.0435,"y":0.638,"s":"ns","lx":0.0688,"ly":0.696},
      {"d":"FINN−2","x":0.0398,"y":0.568,"s":"ns","lx":0.0642,"ly":0.551},
      {"d":"PRI−724","x":0.0286,"y":0.504,"s":"ns","lx":0.0065,"ly":0.617},
      {"d":"Dovitinib","x":0.0348,"y":0.504,"s":"ns","lx":0.0756,"ly":0.461},
      {"d":"RO4929097","x":0.0179,"y":0.504,"s":"ns","lx":-0.0133,"ly":0.51},
      {"d":"Gemcitabine","x":0.0556,"y":0.377,"s":"ns","lx":0.0882,"ly":0.365},
      {"d":"Melflufen","x":0.0396,"y":0.441,"s":"ns","lx":0.0677,"ly":0.246},
      {"d":"Etoposide","x":0.0086,"y":0.304,"s":"ns","lx":0.0118,"ly":0.4},
      {"d":"Galunisertib","x":-0.017,"y":0.377,"s":"ns","lx":-0.0478,"ly":0.412},
      {"d":"Imatinib","x":-0.0163,"y":0.27,"s":"ns","lx":-0.0364,"ly":0.316},
      {"d":"Entinostat","x":-0.0231,"y":0.18,"s":"ns","lx":-0.0583,"ly":0.223},
      {"d":"Vorinostat","x":-0.0122,"y":0.174,"s":"ns","lx":-0.0473,"ly":0.096},
      {"d":"Erlotinib","x":-0.0072,"y":0.186,"s":"ns","lx":0.022,"ly":0.214},
      {"d":"Sunitinib","x":-0.0049,"y":0.168,"s":"ns","lx":0.0191,"ly":0.087},
      {"d":"Lapatinib","x":-0.0113,"y":0.052,"s":"ns","lx":-0.038,"ly":-0.072},
      {"d":"Doxorubicin","x":-0.0017,"y":0.0,"s":"ns","lx":0.0213,"ly":-0.096}]},
     "layer":[
      {"mark":{"type":"circle","size":165,"opacity":1},
       "encoding":{
        "x":{"field":"x","type":"quantitative","title":"log10(fold change)","scale":{"domain":[-0.1059,0.2244],"nice":false,"zero":false},
         "axis":{"orient":"bottom","values":[-0.1,0,0.1,0.2],"labelExpr":"replace(format(datum.value,'.1f'),'−','-')","tickSize":6,"tickWidth":1.5,"domainWidth":2,"labelFontSize":20,"labelPadding":5,"labelColor":"#333333","titleFontSize":26,"titlePadding":4}},
        "y":{"field":"y","type":"quantitative","title":"−log10 (P value)","scale":{"domain":[-0.19,3.86],"nice":false,"zero":false},
         "axis":{"values":[0,1,2,3],"format":"d","tickSize":6,"tickWidth":1.5,"domainWidth":2,"labelFontSize":21,"labelPadding":3,"labelColor":"#333333","titleFontSize":26,"titlePadding":6}},
        "color":{"field":"s","type":"nominal","legend":null,"scale":{"domain":["C1","C2","C3","sig","ns"],"range":["#2F7EBC","#8B6914","#F6A51E","#E0301E","#000000"]}}}},
      {"mark":{"type":"rule","color":"#9A9A9A","strokeWidth":2,"strokeDash":[16,9]},"encoding":{"y":{"datum":1.301,"title":"−log10 (P value)"}}},
      {"mark":{"type":"rule","color":"#9A9A9A","strokeWidth":2,"strokeDash":[16,9]},"encoding":{"x":{"datum":0,"axis":null}}},
      {"data":{"values":[{"x1":0.0191,"y1":0.58,"x2":0.027,"y2":0.516},{"x1":0.0533,"y1":0.478,"x2":0.0366,"y2":0.501},{"x1":0.051,"y1":0.304,"x2":0.0412,"y2":0.42},{"x1":-0.035,"y1":0.203,"x2":-0.025,"y2":0.186},{"x1":0.0031,"y1":0.255,"x2":-0.0065,"y2":0.261},{"x1":-0.0065,"y1":0.261,"x2":-0.0065,"y2":0.205},{"x1":0.0001,"y1":0.116,"x2":-0.0044,"y2":0.157},{"x1":-0.0158,"y1":-0.023,"x2":-0.0122,"y2":0.035}]},
       "mark":{"type":"rule","color":"black","strokeWidth":1.5},
       "encoding":{"x":{"field":"x1","type":"quantitative","axis":null},"x2":{"field":"x2"},"y":{"field":"y1","type":"quantitative","title":"−log10 (P value)"},"y2":{"field":"y2"}}},
      {"mark":{"type":"text","fontSize":19,"color":"black","align":"center","baseline":"middle"},
       "encoding":{"x":{"field":"lx","type":"quantitative","axis":{"orient":"top","title":"ATAC50 C2 vs. C3","domain":false,"ticks":false,"labels":false,"grid":false,"titleFontSize":24,"titlePadding":13}},
        "y":{"field":"ly","type":"quantitative","title":"−log10 (P value)"},"text":{"field":"d"}}}
     ]}
 ]}]}
]}
